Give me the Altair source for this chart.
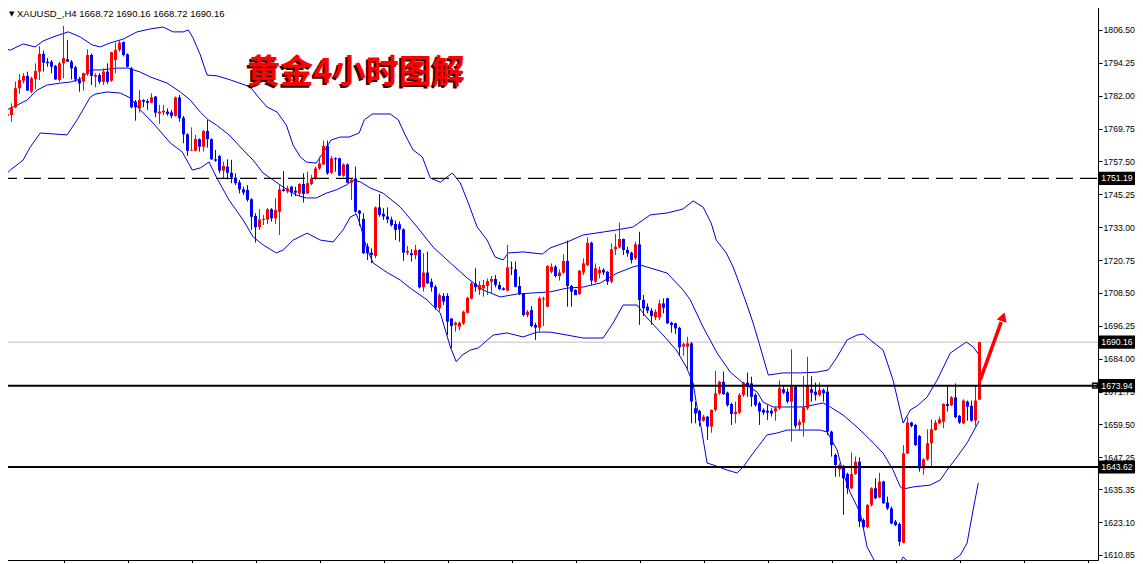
import altair as alt
import pandas as pd

# ---------------- data ----------------
OPEN = [
 1773.3,1774.5,1774.8,1777.7,1784.8,1787.6,1789.4,1783.5,1788.3,1791.0,
 1797.6,1794.7,1794.7,1793.1,1787.9,1794.1,1795.6,1794.7,1792.6,1788.1,
 1787.2,1790.1,1797.2,1789.1,1789.7,1787.2,1791.0,1787.6,1795.3,1799.1,
 1802.0,1797.4,1792.2,1779.8,1777.3,1780.4,1780.0,1779.4,1781.7,1775.4,
 1775.8,1776.1,1775.8,1774.5,1781.4,1773.8,1767.6,1761.5,1761.5,1765.8,
 1763.0,1768.9,1765.8,1758.3,1759.5,1754.1,1755.6,1753.3,1751.5,1749.7,
 1747.1,1746.9,1743.4,1737.2,1733.0,1735.7,1735.9,1739.7,1736.3,1738.8,
 1747.1,1746.3,1748.1,1746.6,1745.6,1749.1,1745.6,1749.1,1751.1,1754.9,
 1756.4,1763.3,1753.3,1758.7,1758.7,1752.2,1756.4,1749.6,1751.2,1739.2,
 1736.1,1725.8,1723.5,1722.3,1740.4,1738.0,1737.0,1735.9,1734.2,1734.1,
 1732.2,1723.5,1723.3,1722.6,1724.5,1710.6,1716.1,1712.7,1710.8,1702.8,
 1707.4,1707.4,1699.0,1696.6,1695.9,1697.2,1701.1,1706.4,1712.1,1709.6,
 1710.2,1711.1,1712.7,1713.7,1711.5,1710.2,1709.4,1718.0,1717.3,1711.1,
 1708.1,1700.3,1702.1,1696.6,1695.6,1706.1,1703.4,1716.4,1718.3,1714.8,
 1716.1,1720.4,1711.1,1709.6,1708.1,1716.1,1718.9,1727.2,1712.7,1715.8,
 1717.1,1716.4,1712.7,1724.8,1725.5,1728.6,1724.5,1723.5,1721.4,1726.6,
 1705.9,1703.4,1701.9,1699.4,1699.4,1704.6,1706.5,1697.4,1697.2,1695.5,
 1688.5,1688.5,1689.7,1665.5,1664.5,1660.9,1662.4,1658.7,1664.9,1671.1,
 1675.4,1671.3,1667.1,1663.4,1663.9,1670.5,1675.1,1674.8,1670.5,1667.4,
 1664.9,1664.6,1664.6,1664.3,1665.5,1672.6,1671.7,1668.0,1673.6,1659.3,
 1660.2,1665.5,1672.6,1671.7,1670.5,1672.3,1671.7,1656.8,1648.1,1642.8,
 1644.0,1641.0,1635.7,1641.0,1645.6,1623.9,1621.2,1629.5,1635.7,1632.3,
 1638.2,1630.4,1628.2,1623.3,1622.4,1615.4,1648.7,1660.2,1659.3,1655.2,
 1643.1,1646.5,1652.5,1657.4,1659.9,1660.5,1667.1,1666.7,1669.6,1662.7,
 1659.9,1668.0,1666.4,1660.9,1668.72,
]
HIGH = [
 1775.5,1776.1,1779.2,1787.3,1790.1,1790.4,1791.0,1789.1,1794.1,1800.5,
 1798.8,1796.0,1795.3,1793.5,1794.7,1808.0,1802.8,1795.3,1793.1,1789.1,
 1790.6,1799.3,1797.8,1790.4,1790.4,1792.2,1794.1,1798.4,1801.8,1802.5,
 1802.2,1797.8,1792.8,1780.4,1784.1,1780.7,1780.7,1782.9,1781.9,1778.6,
 1778.6,1777.3,1776.7,1781.7,1782.3,1774.5,1768.0,1770.2,1767.4,1766.1,
 1769.2,1773.0,1766.1,1761.8,1759.9,1757.4,1758.3,1758.1,1753.1,1750.6,
 1748.1,1748.7,1743.8,1738.2,1739.7,1737.6,1740.1,1740.1,1743.8,1748.7,
 1753.9,1748.4,1748.4,1748.1,1749.4,1753.1,1753.7,1752.5,1755.6,1759.3,
 1765.3,1765.3,1759.5,1759.0,1758.9,1756.8,1756.8,1751.2,1755.6,1739.4,
 1738.2,1727.0,1725.1,1740.7,1745.4,1740.1,1740.4,1736.9,1735.5,1735.1,
 1732.6,1726.0,1724.8,1726.4,1724.8,1723.3,1723.9,1713.9,1711.5,1708.4,
 1708.4,1708.4,1699.0,1697.8,1697.8,1701.9,1707.1,1712.7,1717.7,1712.9,
 1713.3,1713.9,1714.8,1715.2,1712.7,1710.6,1726.4,1720.2,1720.2,1714.6,
 1708.4,1702.1,1703.6,1697.4,1707.1,1707.1,1718.9,1719.5,1718.9,1717.3,
 1722.9,1728.0,1711.5,1709.9,1717.1,1721.4,1729.2,1727.6,1719.5,1718.3,
 1717.7,1716.7,1727.0,1730.5,1734.7,1728.8,1725.7,1723.9,1727.6,1731.3,
 1707.7,1704.6,1702.8,1702.4,1705.9,1706.5,1706.7,1697.8,1697.4,1695.9,
 1690.0,1692.2,1690.3,1668.0,1664.9,1663.0,1662.6,1665.1,1679.5,1675.8,
 1679.2,1671.7,1667.6,1668.0,1671.1,1675.4,1678.8,1677.3,1671.1,1668.0,
 1665.5,1666.7,1665.5,1666.1,1675.8,1674.2,1672.9,1687.5,1674.2,1661.4,
 1677.5,1684.7,1677.5,1675.1,1675.1,1672.9,1673.6,1657.2,1648.7,1645.0,
 1644.4,1641.5,1649.0,1647.5,1647.2,1624.5,1629.9,1636.1,1639.4,1641.5,
 1638.5,1632.6,1628.9,1623.9,1622.9,1651.8,1662.2,1660.5,1659.7,1655.6,
 1646.9,1657.7,1661.4,1661.2,1662.4,1667.4,1673.8,1670.1,1674.8,1663.0,
 1668.9,1668.4,1668.4,1674.2,1690.16,
]
LOW = [
 1770.5,1770.7,1772.3,1777.3,1782.7,1786.6,1783.9,1782.9,1784.4,1787.9,
 1791.0,1792.8,1790.4,1787.9,1787.2,1788.5,1794.7,1788.1,1787.2,1783.5,
 1783.9,1789.4,1786.0,1785.1,1786.4,1786.0,1786.4,1787.2,1790.4,1798.4,
 1796.6,1792.6,1777.3,1772.7,1775.7,1777.7,1776.7,1779.2,1774.0,1771.5,
 1774.8,1774.5,1773.6,1774.2,1772.3,1764.3,1759.6,1761.5,1761.2,1761.2,
 1761.2,1762.7,1758.1,1757.4,1753.1,1751.2,1750.8,1749.4,1748.7,1745.6,
 1745.0,1742.5,1732.0,1727.3,1732.0,1733.8,1734.2,1735.1,1734.2,1730.1,
 1746.3,1745.6,1744.4,1744.6,1744.4,1742.2,1745.4,1748.7,1750.6,1754.3,
 1756.2,1752.5,1752.8,1753.7,1752.1,1751.8,1749.4,1743.2,1738.2,1733.5,
 1723.0,1720.8,1719.6,1721.4,1736.9,1735.7,1734.5,1733.2,1728.2,1727.6,
 1720.5,1722.6,1720.2,1721.0,1710.2,1709.0,1711.8,1709.0,1702.2,1701.5,
 1704.0,1692.8,1687.9,1694.1,1694.5,1696.6,1700.9,1706.1,1709.0,1707.7,
 1707.1,1707.7,1708.4,1710.6,1709.6,1709.4,1709.0,1715.2,1710.6,1707.7,
 1699.7,1699.4,1695.7,1691.0,1694.1,1696.2,1703.1,1715.8,1714.3,1713.1,
 1715.6,1703.4,1703.4,1707.7,1707.7,1715.2,1718.5,1711.5,1712.3,1713.9,
 1715.2,1711.5,1712.1,1722.6,1725.1,1722.6,1722.0,1719.5,1720.8,1696.6,
 1699.9,1700.9,1696.6,1698.4,1698.4,1700.9,1696.9,1693.7,1693.2,1685.4,
 1685.1,1680.0,1659.9,1659.9,1658.7,1660.5,1653.7,1656.4,1664.3,1670.5,
 1670.5,1666.1,1659.3,1659.9,1663.4,1669.8,1669.8,1666.1,1666.1,1659.3,
 1663.0,1661.2,1662.4,1660.9,1664.9,1670.8,1667.4,1653.1,1658.0,1657.2,
 1654.9,1664.9,1668.0,1668.4,1669.9,1668.0,1655.6,1647.5,1640.0,1640.0,
 1625.8,1633.6,1635.3,1640.7,1621.2,1620.8,1620.8,1628.9,1631.6,1632.0,
 1629.9,1627.6,1622.3,1621.6,1614.2,1615.2,1648.5,1658.4,1651.5,1641.9,
 1640.7,1646.0,1643.8,1657.2,1659.7,1658.1,1664.3,1666.4,1661.8,1659.7,
 1659.7,1660.9,1660.5,1658.9,1668.72,
]
CLOSE = [
 1774.8,1775.1,1777.7,1784.8,1787.9,1789.4,1783.9,1788.5,1791.2,1797.6,
 1794.3,1794.1,1792.8,1788.1,1794.1,1796.0,1794.7,1792.2,1788.1,1786.6,
 1790.4,1797.2,1789.4,1789.7,1787.2,1791.0,1787.2,1798.2,1799.1,1801.8,
 1797.2,1792.8,1777.7,1777.7,1780.4,1779.8,1779.4,1781.4,1775.7,1776.1,
 1776.4,1775.2,1774.5,1781.4,1773.6,1767.6,1761.5,1761.8,1765.9,1763.0,
 1768.9,1765.8,1758.3,1757.8,1754.1,1755.8,1753.3,1751.6,1749.4,1747.1,
 1745.9,1743.2,1736.9,1733.0,1735.9,1736.1,1739.7,1736.3,1739.4,1747.1,
 1746.5,1747.5,1745.9,1745.9,1749.1,1745.4,1749.4,1751.2,1754.9,1756.8,
 1763.3,1753.1,1758.7,1758.3,1752.2,1756.4,1749.6,1750.6,1738.8,1738.0,
 1723.3,1723.3,1722.7,1740.4,1737.6,1737.0,1735.9,1733.8,1732.0,1732.2,
 1723.5,1724.1,1722.6,1724.5,1710.6,1716.1,1712.1,1710.6,1703.0,1707.7,
 1705.3,1697.8,1696.2,1697.4,1697.4,1701.5,1706.7,1712.1,1710.6,1711.5,
 1711.5,1712.9,1713.7,1711.5,1709.9,1709.6,1718.0,1717.7,1710.8,1708.1,
 1700.3,1701.5,1696.2,1695.6,1706.5,1706.5,1718.5,1718.3,1714.8,1716.1,
 1720.4,1711.1,1709.0,1707.7,1716.8,1719.5,1727.2,1713.1,1717.7,1717.1,
 1716.1,1712.7,1724.8,1725.7,1728.6,1724.5,1723.3,1720.8,1726.6,1705.9,
 1702.8,1701.9,1699.9,1701.5,1704.6,1703.0,1697.2,1696.6,1695.3,1688.2,
 1689.4,1689.7,1668.0,1663.6,1660.9,1662.4,1658.7,1664.9,1671.1,1675.4,
 1670.8,1666.7,1663.4,1664.2,1670.5,1675.1,1673.6,1669.8,1666.7,1664.3,
 1663.9,1663.9,1663.6,1665.5,1673.0,1671.3,1668.0,1673.6,1658.9,1660.5,
 1665.9,1673.6,1671.3,1670.5,1672.3,1671.1,1656.8,1651.8,1644.4,1644.4,
 1639.4,1635.7,1641.0,1645.6,1623.3,1621.2,1629.5,1635.7,1632.0,1638.2,
 1630.1,1628.2,1622.6,1622.0,1615.8,1648.7,1660.2,1658.9,1651.8,1643.1,
 1646.5,1652.5,1657.7,1660.2,1661.4,1667.1,1666.4,1669.6,1662.2,1660.2,
 1668.4,1666.1,1660.9,1668.4,1690.16,
]

# Bollinger bands: (bar index, price)
UPPER = [(-0.8,1799.8),(1.7,1799.0),(4.9,1801.3),(7.9,1800.2),(9.9,1802.4),(12.4,1803.9),(16.2,1805.8),
 (19.2,1803.9),(22.2,1800.9),(24.2,1800.2),(26.7,1801.7),(29.9,1803.1),(33.4,1805.8),(36.7,1806.9),
 (39.9,1807.6),(42.4,1805.8),(44.9,1805.8),(46.2,1806.5),(47.4,1803.5),(49.2,1797.2),(50.9,1789.7),
 (53.4,1789.4),(56.7,1787.9),(61.7,1785.3),(63.7,1781.5),(65.9,1777.8),(68.4,1775.9),(70.7,1771.1),
 (72.4,1763.6),(74.2,1759.2),(75.7,1757.3),(78.2,1756.9),(79.9,1760.7),(81.9,1765.5),(84.2,1766.6),
 (86.4,1766.6),(88.9,1768.1),(90.2,1773.0),(92.2,1775.2),(96.7,1775.2),(98.7,1773.0),(100.4,1767.4),
 (102.4,1761.8),(104.7,1759.2),(106.7,1751.3),(109.2,1749.8),(112.2,1753.2),(114.2,1749.5),(116.2,1742.0),
 (118.4,1733.1),(120.9,1728.2),(122.9,1721.9),(124.9,1720.8),(126.2,1723.4),(129.9,1723.8),(134.7,1723.0),
 (136.7,1725.3),(140.9,1727.5),(144.9,1730.1),(149.9,1731.2),(153.4,1732.0),(157.4,1733.1),(161.7,1737.6),
 (165.9,1738.3),(169.9,1739.8),(172.4,1742.8),(174.9,1740.5),(176.9,1734.6),(178.2,1728.2),(180.7,1723.4),
 (182.4,1718.2),(183.9,1712.2),(185.7,1704.8),(187.4,1697.3),(188.9,1689.8),(189.9,1684.6),(191.2,1677.9),
 (194.9,1678.7),(199.2,1678.7),(203.4,1679.0),(206.2,1679.8),(208.4,1684.6),(210.9,1691.0),(213.4,1692.8),
 (214.9,1693.2),(216.7,1691.0),(219.9,1687.2),(222.4,1676.0),(224.9,1660.0),(226.7,1664.9),(228.4,1666.4),
 (230.9,1669.7),(233.4,1676.0),(236.7,1686.1),(240.7,1690.2),(242.4,1688.4),(243.9,1685.4)]
MIDDLE = [(-0.8,1775.6),(3.4,1778.5),(5.9,1780.4),(8.4,1784.1),(10.9,1786.0),(14.2,1786.7),(16.7,1787.1),
 (19.2,1788.2),(21.7,1791.6),(24.2,1791.6),(28.4,1792.3),(31.2,1792.3),(34.2,1790.8),(36.7,1789.0),
 (40.9,1786.7),(44.2,1783.4),(46.7,1780.4),(49.2,1775.9),(51.2,1773.0),(53.2,1771.1),(56.4,1767.4),
 (59.9,1761.8),(62.4,1758.0),(64.9,1753.2),(67.4,1750.6),(70.7,1747.2),(73.2,1745.0),(75.7,1743.9),
 (78.2,1743.9),(80.7,1745.7),(83.2,1746.9),(85.7,1748.7),(87.4,1750.6),(89.2,1749.9),(91.7,1747.6),
 (94.9,1745.7),(99.2,1740.5),(103.4,1733.1),(107.4,1725.6),(111.7,1719.7),(115.9,1714.1),(119.9,1709.6),
 (124.2,1707.0),(128.4,1708.1),(132.4,1708.5),(136.7,1708.9),(140.9,1710.3),(144.9,1710.7),(149.2,1712.2),
 (153.4,1715.9),(157.4,1718.2),(159.2,1718.9),(161.7,1717.8),(165.9,1715.9),(169.9,1709.6),(171.7,1705.9),
 (174.9,1695.8),(178.4,1686.1),(181.7,1679.0),(184.9,1674.9),(188.4,1671.6),(189.9,1667.8),(192.4,1666.0),
 (199.9,1666.0),(204.9,1667.5),(206.7,1666.0),(209.9,1663.0),(213.4,1658.5),(216.7,1653.7),(219.9,1648.8),
 (222.4,1642.5),(224.2,1636.2),(224.9,1635.4),(227.4,1636.2),(231.7,1636.9),(234.2,1638.8),(235.9,1642.5),
 (238.4,1647.4),(240.9,1652.6),(243.9,1660.8)]
LOWER = [(-0.8,1750.6),(1.7,1754.3),(4.9,1758.0),(6.7,1762.9),(9.2,1768.1),(15.9,1767.4),(18.4,1773.0),
 (21.7,1781.5),(22.9,1782.6),(25.9,1783.4),(29.2,1783.0),(31.7,1781.2),(34.2,1776.7),(37.4,1771.8),
 (41.7,1764.4),(44.7,1761.0),(47.2,1754.3),(49.2,1755.1),(51.4,1757.3),(53.2,1751.7),(56.4,1743.1),
 (59.9,1735.7),(62.4,1729.4),(64.9,1726.4),(68.2,1723.4),(69.9,1724.5),(72.4,1728.2),(75.9,1730.8),
 (79.2,1728.2),(82.4,1727.5),(84.9,1732.0),(86.7,1736.8),(88.2,1737.9),(89.2,1733.8),(90.7,1725.6),
 (92.4,1719.7),(95.7,1716.3),(99.2,1713.3),(101.7,1710.3),(105.9,1705.9),(109.2,1701.0),(111.7,1688.4),
 (113.2,1682.8),(114.7,1685.4),(116.7,1687.2),(118.7,1688.0),(122.4,1692.8),(125.9,1693.6),(129.9,1692.1),
 (133.4,1693.9),(136.7,1693.9),(140.9,1692.8),(144.9,1691.7),(149.9,1691.7),(152.4,1697.3),(154.9,1704.0),
 (158.4,1704.0),(160.7,1699.5),(164.9,1692.8),(168.2,1687.2),(170.7,1680.9),(172.4,1674.9),(173.2,1667.5),
 (174.4,1658.5),(175.9,1645.1),(177.4,1644.4),(180.9,1642.5),(183.4,1641.4),(184.9,1643.6),(187.4,1648.8),
 (190.9,1655.6),(193.4,1656.3),(195.9,1657.4),(204.2,1657.4),(205.9,1656.7),(208.4,1650.0),(209.9,1641.4),
 (211.7,1634.0),(214.2,1626.5),(215.9,1613.8),(217.9,1608.2),(221.2,1603.4),(224.2,1608.2),(224.9,1610.1),
 (226.2,1608.2),(231.7,1603.4),(236.7,1608.2),(239.2,1610.8),(240.9,1615.3),(242.4,1627.6),(243.7,1637.7)]

LEVEL_DASH = [1751.19]
LEVEL_GRAY = [1690.16]
LEVEL_SOLID = [1673.94, 1643.62]
TAGS = [1751.19, 1690.16, 1673.94, 1643.62]
Y_TICKS = [1806.50, 1794.25, 1782.00, 1769.75, 1757.50, 1745.25, 1733.00, 1720.75,
           1708.50, 1696.25, 1684.00, 1671.75, 1659.50, 1647.25, 1635.35, 1623.10, 1610.85]
X_TICKS = [15, 31, 47, 63, 79, 95, 111, 127, 143, 159, 175, 191, 207, 223, 239, 255, 271]
ARROW_I = [244.2, 249.4]
ARROW_P = [1676.1, 1697.6]
ARROW_HEAD = (249.9, 1699.6)
HEADER = "XAUUSD_,H4  1668.72 1690.16 1668.72 1690.16"
TITLE = "黄金4小时图解"

# ---------------- styles ----------------
RED = "#ff0000"
BLUE = "#0000ff"
BAND = "#0000dd"
FONT = "Liberation Sans"
W, H = 1098, 560

n = min(len(OPEN), len(HIGH), len(LOW), len(CLOSE))
df = pd.DataFrame({"i": list(range(n)), "o": OPEN[:n], "h": HIGH[:n], "l": LOW[:n], "c": CLOSE[:n]})
bdf = pd.DataFrame(
    [{"band": "u", "i": a, "v": b} for a, b in UPPER]
    + [{"band": "m", "i": a, "v": b} for a, b in MIDDLE]
    + [{"band": "d", "i": a, "v": b} for a, b in LOWER]
)

xs = alt.Scale(domain=[-0.875, 273.625], nice=False, zero=False)
ys = alt.Scale(domain=[1608.97, 1817.68], nice=False, zero=False)
x_axis = alt.Axis(orient="bottom", values=X_TICKS, labels=False, ticks=True, tickSize=5,
                  tickColor="black", tickWidth=1, domainColor="black", domainWidth=1,
                  grid=False, title=None)
y_axis = alt.Axis(orient="right", values=Y_TICKS, format=".2f", labelFont=FONT,
                  labelFontSize=8.7, labelColor="black", tickSize=4, tickColor="black",
                  tickWidth=1, labelPadding=1, domainColor="black", domainWidth=1,
                  grid=False, title=None, labelOverlap=False)


def X(f):
    return alt.X(f, scale=xs, axis=x_axis)


def Y(f):
    return alt.Y(f, scale=ys, axis=y_axis)


col = alt.condition("datum.c >= datum.o", alt.value(RED), alt.value(BLUE))

wicks = alt.Chart(df).mark_rule(strokeWidth=1, clip=True).encode(
    x=X("i:Q"), y=Y("l:Q"), y2="h:Q", color=col)
bodies = alt.Chart(df).mark_rule(strokeWidth=3, strokeCap="butt", clip=True).encode(
    x=X("i:Q"), y=Y("o:Q"), y2="c:Q", color=col)
bands = alt.Chart(bdf).mark_line(strokeWidth=1, clip=True, color=BAND).encode(
    x=X("i:Q"), y=Y("v:Q"), detail="band:N")

dash = alt.Chart(pd.DataFrame({"p": LEVEL_DASH})).mark_rule(
    color="black", strokeWidth=1.3, strokeDash=[17, 7]).encode(
    y=Y("p:Q"), x=alt.value(0), x2=alt.value(W))
gray = alt.Chart(pd.DataFrame({"p": LEVEL_GRAY})).mark_rule(
    color="#c0c0c0", strokeWidth=1).encode(y=Y("p:Q"), x=alt.value(0), x2=alt.value(W))
solid = alt.Chart(pd.DataFrame({"p": LEVEL_SOLID})).mark_rule(
    color="black", strokeWidth=2).encode(y=Y("p:Q"), x=alt.value(0), x2=alt.value(W))
square = alt.Chart(pd.DataFrame({"p": [LEVEL_SOLID[0]]})).mark_point(
    shape="square", filled=False, size=22, color="black", strokeWidth=1.5, opacity=1).encode(
    y=Y("p:Q"), x=alt.value(1095))

tdf = pd.DataFrame({"p": TAGS, "t": [f"{v:.2f}" for v in TAGS]})
tag_box = alt.Chart(tdf).transform_calculate(
    top="datum.p + 2.45", bot="datum.p - 2.45").mark_rect(color="black").encode(
    y=Y("top:Q"), y2="bot:Q", x=alt.value(W + 1), x2=alt.value(W + 37))
tag_txt = alt.Chart(tdf).mark_text(color="white", font=FONT, fontSize=8.7,
                                   align="center", baseline="middle").encode(
    y=Y("p:Q"), x=alt.value(W + 19), text="t:N")

adf = pd.DataFrame({"i": ARROW_I, "p": ARROW_P})
arrow = alt.Chart(adf).mark_line(color=RED, strokeWidth=3.5).encode(x=X("i:Q"), y=Y("p:Q"))
head = alt.Chart(pd.DataFrame({"i": [ARROW_HEAD[0]], "p": [ARROW_HEAD[1]]})).mark_point(
    shape="triangle-up", filled=True, size=110, angle=19, color=RED, opacity=1).encode(
    x=X("i:Q"), y=Y("p:Q"))

one = pd.DataFrame({"k": [0]})
title_shadow = alt.Chart(one).mark_text(
    text=TITLE, font="Noto Sans CJK SC", fontSize=33, fontWeight="bold", color="#3a0000",
    align="center", baseline="middle").encode(x=alt.value(354), y=alt.value(75))
title = alt.Chart(one).mark_text(
    text=TITLE, font="Noto Sans CJK SC", fontSize=33, fontWeight="bold", color=RED,
    align="center", baseline="middle").encode(x=alt.value(356), y=alt.value(73))
tri = alt.Chart(one).mark_text(
    text="▼", font="DejaVu Sans", fontSize=7, color="black", align="left",
    baseline="middle").encode(x=alt.value(9), y=alt.value(14))
header = alt.Chart(one).mark_text(
    text=HEADER, font=FONT, fontSize=9.5, color="black", align="left",
    baseline="middle").encode(x=alt.value(17), y=alt.value(14))

chart = alt.layer(
    gray, bands, wicks, bodies, dash, solid, square, arrow, head,
    tag_box, tag_txt, title_shadow, title, tri, header
).properties(
    width=W, height=H,
    autosize=alt.AutoSizeParams(type="none"),
    padding={"left": -8, "top": -8, "right": 37, "bottom": 3},
    background="white",
).configure_view(strokeWidth=0)

chart.save("out.html", embed_options={"renderer": "svg", "actions": False})
